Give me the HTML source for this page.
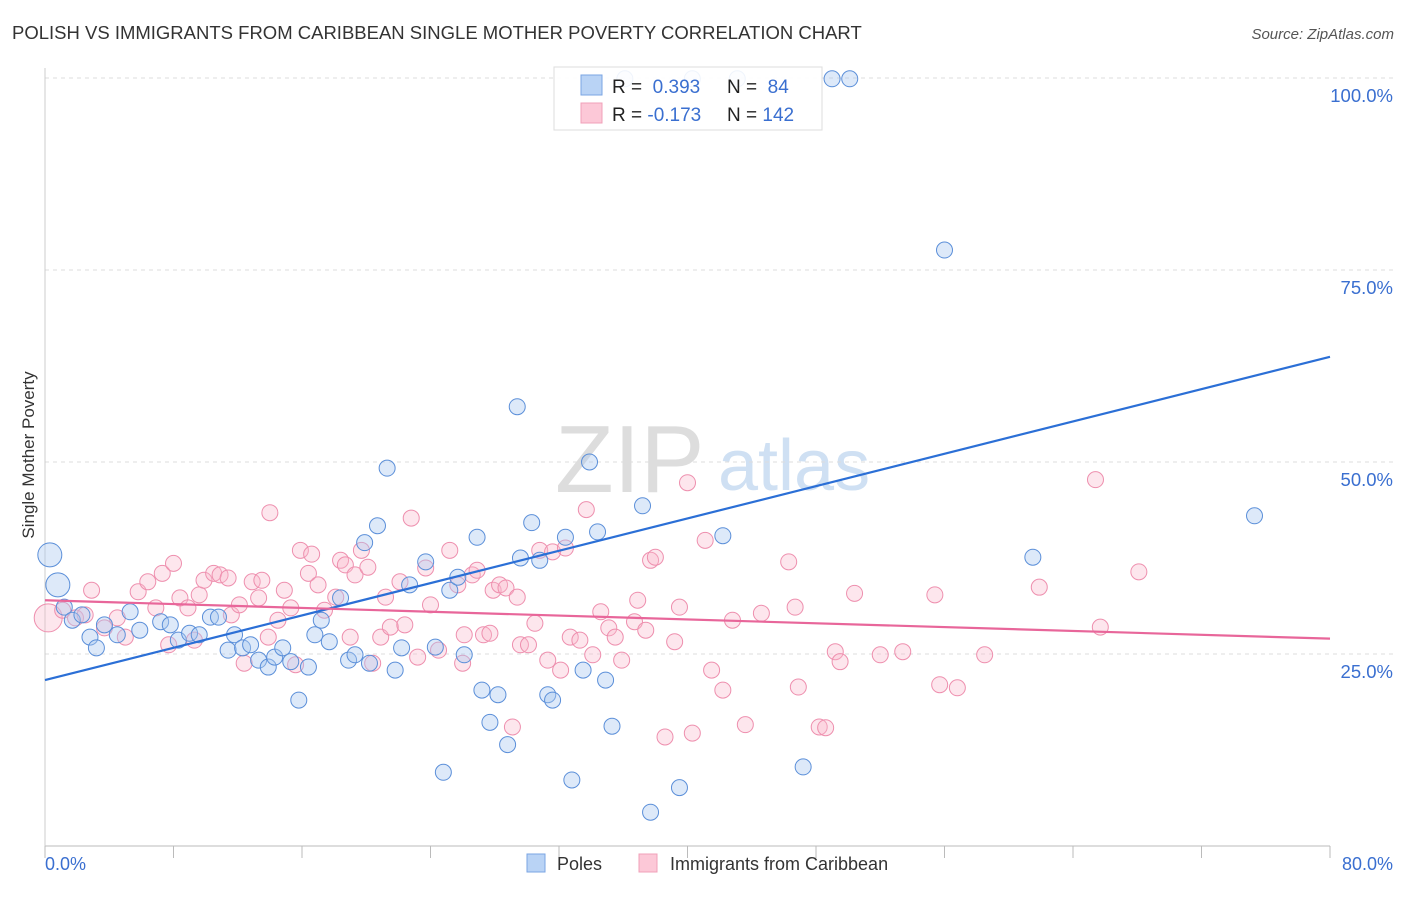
<!DOCTYPE html>
<html><head><meta charset="utf-8">
<style>
body{margin:0;background:#fff;font-family:"Liberation Sans",sans-serif;}
svg text{font-family:"Liberation Sans",sans-serif;}
</style></head>
<body>
<svg id="chart" width="1406" height="892" xmlns="http://www.w3.org/2000/svg">
<text x="12" y="39" font-size="18.5" fill="#333">POLISH VS IMMIGRANTS FROM CARIBBEAN SINGLE MOTHER POVERTY CORRELATION CHART</text>
<text x="1394" y="39" font-size="15" fill="#555" font-style="italic" text-anchor="end">Source: ZipAtlas.com</text>
<text x="34" y="455" font-size="17" fill="#333" text-anchor="middle" transform="rotate(-90 34 455)">Single Mother Poverty</text>
<g>
<text x="555" y="492" font-size="96" fill="#ddd" font-family="Liberation Serif,serif">ZIP</text>
<text x="718" y="490" font-size="72" fill="#cfe0f3">atlas</text>
</g>
<g id="grid"></g><g id="axes"></g><g id="pinkPts"></g><g id="bluePts"></g><g id="trends"></g>
<g>
<rect x="554" y="67" width="268" height="63" fill="#fff" fill-opacity="0.9" stroke="#ddd"/>
<rect x="581" y="75" width="21" height="20" fill="#b9d3f5" stroke="#7aa5e3"/>
<rect x="581" y="103" width="21" height="20" fill="#fcc8d7" stroke="#f0a0b8"/>
<text x="612" y="93" font-size="19" fill="#222">R = <tspan fill="#3a6fd0">&#160;0.393</tspan></text>
<text x="727" y="93" font-size="19" fill="#222">N = <tspan fill="#3a6fd0">&#160;84</tspan></text>
<text x="612" y="121" font-size="19" fill="#222">R = <tspan fill="#3a6fd0">-0.173</tspan></text>
<text x="727" y="121" font-size="19" fill="#222">N = <tspan fill="#3a6fd0">142</tspan></text>
</g>
<g>
<rect x="527" y="854" width="18" height="18" fill="#b9d3f5" stroke="#7aa5e3"/>
<text x="557" y="870" font-size="18" fill="#333">Poles</text>
<rect x="639" y="854" width="18" height="18" fill="#fcc8d7" stroke="#f0a0b8"/>
<text x="670" y="870" font-size="18" fill="#333">Immigrants from Caribbean</text>
</g>
</svg>
<script>
const yTicks=[25,50,75,100];
const yTickLabels=["25.0%","50.0%","75.0%","100.0%"];
const xTicks=[0,8,16,24,32,40,48,56,64,72,80];
const bluesX=[0.3,0.8,1.2,1.7,2.3,2.8,3.2,3.7,4.5,5.3,5.9,7.2,7.8,8.3,9.0,9.6,10.3,10.8,11.4,11.8,12.3,12.8,13.3,13.9,14.3,14.8,15.3,15.8,16.4,16.8,17.2,17.7,18.4,18.9,19.3,19.9,20.2,20.7,21.3,21.8,22.2,22.7,23.7,24.3,24.8,25.2,25.7,26.1,26.9,27.2,27.7,28.2,28.8,29.4,29.6,30.3,30.8,31.3,31.6,32.4,32.8,33.5,33.9,34.4,34.9,35.3,37.2,37.7,39.5,42.2,47.2,49.0,50.1,56.0,61.5,75.3,36.1,43.1,40.3];
const bluesY=[37.9,34.0,31.1,29.4,30.1,27.2,25.8,28.8,27.5,30.5,28.1,29.2,28.8,26.8,27.7,27.5,29.8,29.8,25.5,27.5,25.8,26.2,24.2,23.3,24.6,25.8,24.0,19.0,23.3,27.5,29.4,26.6,32.3,24.2,24.9,39.5,23.8,41.7,49.2,22.9,25.8,34.0,37.0,25.9,9.6,33.3,35.0,24.9,40.2,20.3,16.1,19.7,13.2,57.2,37.5,42.1,37.2,19.7,19.0,40.2,8.6,22.9,50.0,40.9,21.6,15.6,44.3,4.4,7.6,40.4,10.3,99.9,99.9,77.6,37.6,43.0,99.9,99.9,99.9];
const pinksX=[0.2,1.1,1.9,2.5,2.9,3.7,4.5,5.0,5.8,6.4,6.9,7.3,7.7,8.0,8.4,8.9,9.3,9.6,9.9,10.5,10.9,11.4,11.6,12.1,12.4,12.9,13.3,13.5,13.9,14.0,14.5,14.9,15.3,15.6,15.9,16.4,16.6,17.0,17.4,18.1,18.4,18.7,19.0,19.3,19.7,20.1,20.4,20.9,21.2,21.5,22.1,22.4,22.8,23.2,23.7,24.0,24.5,25.2,25.7,26.0,26.1,26.6,26.9,27.3,27.7,27.9,28.3,28.7,29.1,29.4,29.6,30.1,30.5,30.8,31.3,31.6,32.1,32.4,32.7,33.3,33.7,34.1,34.6,35.1,35.5,35.9,36.7,36.9,37.4,37.7,38.0,38.6,39.2,39.5,40.0,40.3,41.1,41.5,42.2,42.8,43.6,44.6,46.3,46.7,46.9,48.2,48.6,49.2,49.5,50.4,52.0,53.4,55.4,55.7,56.8,58.5,61.9,65.4,65.7,68.1];
const pinksY=[29.7,30.7,29.7,30.1,33.3,28.4,29.7,27.2,33.1,34.4,31.0,35.5,26.2,36.8,32.3,31.0,26.8,32.7,34.6,35.5,35.3,34.9,30.1,31.4,23.8,34.4,32.3,34.6,27.2,43.4,29.4,33.3,31.0,23.6,38.5,35.5,38.0,34.0,30.7,32.4,37.2,36.6,27.2,35.3,38.5,36.3,23.8,27.2,32.4,28.5,34.4,28.8,42.7,24.6,36.2,31.4,25.5,38.5,34.0,23.8,27.5,35.3,35.9,27.5,27.7,33.3,34.0,33.6,15.5,32.4,26.2,26.2,29.0,38.5,24.2,38.3,22.9,38.8,27.2,26.8,43.8,24.9,30.5,28.4,27.2,24.2,29.2,32.0,28.1,37.2,37.6,14.2,26.6,31.1,47.3,14.7,39.8,22.9,20.3,29.4,15.8,30.3,37.0,31.1,20.7,15.5,15.4,25.3,24.0,32.9,24.9,25.3,32.7,21.0,20.6,24.9,33.7,47.7,28.5,35.7];
const blueTrend=[21.6,63.7];
const pinkTrend=[32.0,27.0];
const NS="http://www.w3.org/2000/svg";
const X0=45,X1=1330,Y0=846,Y100=78;
function sx(v){return X0+(v/80)*(X1-X0);}
function sy(v){return Y0-(v/100)*(Y0-Y100);}
function mk(tag,attrs,parent){const e=document.createElementNS(NS,tag);for(const k in attrs)e.setAttribute(k,attrs[k]);document.getElementById(parent).appendChild(e);return e;}
yTicks.forEach((t,i)=>{
  const l=mk('line',{x1:X0,x2:1395,y1:sy(t),y2:sy(t),stroke:'#ddd','stroke-dasharray':'4,4'},'grid');
  
  
  const tx=mk('text',{x:1393,y:sy(t)+24,'font-size':18.5,fill:'#3a6fd0','text-anchor':'end'},'grid');
  tx.textContent=yTickLabels[i];
  
  
});
const ax=mk('line',{x1:X0,x2:X1,y1:Y0,y2:Y0,stroke:'#bbb'},'axes');


const ay=mk('line',{x1:X0,x2:X0,y1:68,y2:Y0,stroke:'#ccc'},'axes');


xTicks.forEach(t=>{
  const l=mk('line',{x1:sx(t),x2:sx(t),y1:Y0,y2:Y0+12,stroke:'#bbb'},'axes');
  
  
});
const xl0=mk('text',{x:45,y:870,'font-size':18,fill:'#3a6fd0'},'axes');xl0.textContent='0.0%';


const xl1=mk('text',{x:1393,y:870,'font-size':18,fill:'#3a6fd0','text-anchor':'end'},'axes');xl1.textContent='80.0%';


pinksX.forEach((x,i)=>{
  const c=mk('circle',{cx:sx(x),cy:sy(pinksY[i]),r:i===0?14:8,fill:'#f9b8cc','fill-opacity':0.35,stroke:'#ee8fae','stroke-width':1},'pinkPts');
  
  
});
bluesX.forEach((x,i)=>{
  const c=mk('circle',{cx:sx(x),cy:sy(bluesY[i]),r:i<2?12:8,fill:'#a9c8f0','fill-opacity':0.4,stroke:'#5b8fd9','stroke-width':1},'bluePts');
  
  
});
const bt=mk('line',{x1:sx(0),y1:sy(blueTrend[0]),x2:sx(80),y2:sy(blueTrend[1]),stroke:'#2b6fd6','stroke-width':2.2},'trends');


const pt=mk('line',{x1:sx(0),y1:sy(pinkTrend[0]),x2:sx(80),y2:sy(pinkTrend[1]),stroke:'#e8669a','stroke-width':2.2},'trends');


</script>
</body></html>
